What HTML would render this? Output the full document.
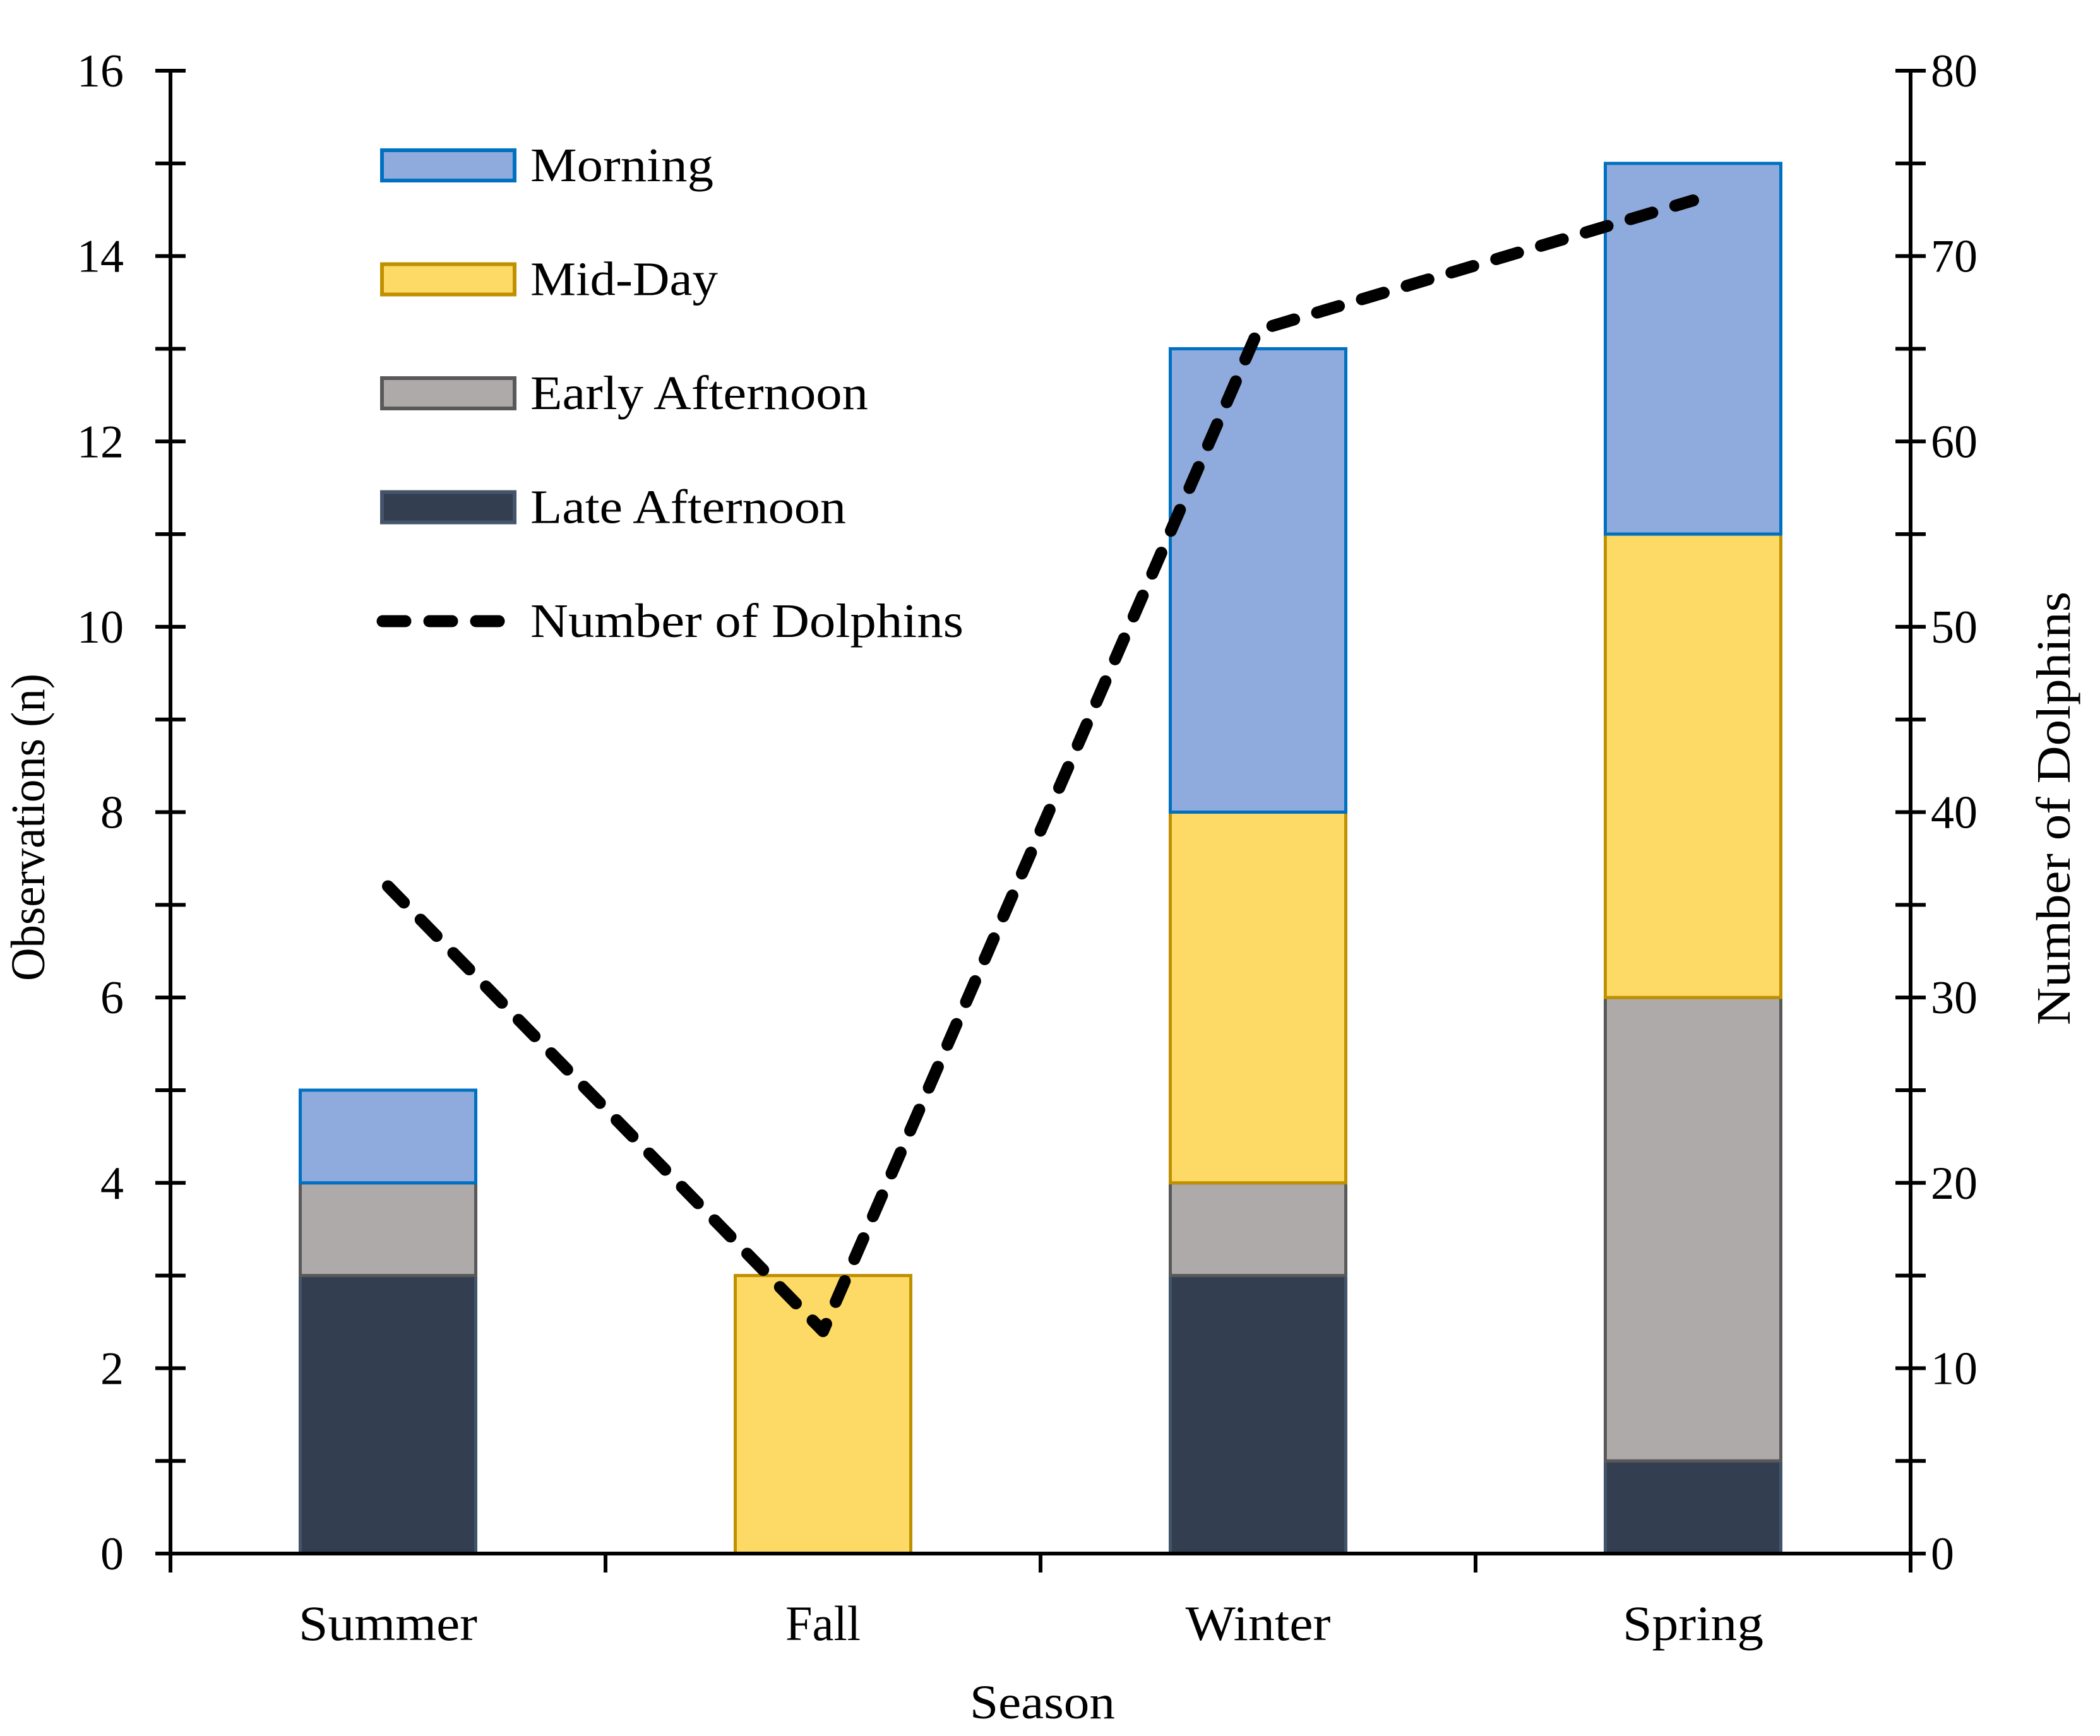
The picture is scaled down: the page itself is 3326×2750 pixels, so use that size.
<!DOCTYPE html>
<html><head><meta charset="utf-8"><style>
html,body{margin:0;padding:0;background:#fff;}
svg{display:block;}
text{font-family:"Liberation Serif",serif;fill:#000;}
</style></head>
<body>
<svg id="chart" width="3326" height="2750" viewBox="0 0 3326 2750" xmlns="http://www.w3.org/2000/svg">
<g id="bars"></g>
<g id="line"></g>
<g id="axes"></g>
<g id="legend"></g>
</svg>
<script>
const categories = ["Summer", "Fall", "Winter", "Spring"];
const lateAfternoon = [3, 0, 3, 1];
const earlyAfternoon = [1, 0, 1, 5];
const midDay = [0, 3, 4, 5];
const morning = [1, 0, 5, 4];
const dolphins = [36, 12, 66, 73];
const leftTicks = [0, 2, 4, 6, 8, 10, 12, 14, 16];
const rightTicks = [0, 10, 20, 30, 40, 50, 60, 70, 80];

const NS = "http://www.w3.org/2000/svg";
const X0 = 270, X1 = 3026, Y0 = 2461, Y1 = 112;
const leftMax = 16, rightMax = 80;
const yL = v => Y0 - (Y0 - Y1) * v / leftMax;
const yR = v => Y0 - (Y0 - Y1) * v / rightMax;
const band = (X1 - X0) / categories.length;
const xC = i => X0 + band * (i + 0.5);
const barW = 278;
const catLens = [283, 119, 230, 223];

function mk(tag, attrs, parent, txt) {
  const e = document.createElementNS(NS, tag);
  for (const k in attrs) e.setAttribute(k, attrs[k]);
  if (txt !== undefined) e.textContent = txt;
  parent.appendChild(e);
  return e;
}

const series = [
  {name: "late-afternoon", vals: lateAfternoon, fill: "#333f50", stroke: "#44546a"},
  {name: "early-afternoon", vals: earlyAfternoon, fill: "#aeaaaa", stroke: "#595959"},
  {name: "mid-day", vals: midDay, fill: "#fdd966", stroke: "#bf9000"},
  {name: "morning", vals: morning, fill: "#8faadc", stroke: "#0070c0"}
];
const gb = document.getElementById("bars");
categories.forEach((c, i) => {
  let base = 0;
  series.forEach(s => {
    const v = s.vals[i];
    if (v > 0) {
      const r = mk("rect", {x: xC(i) - barW / 2, y: yL(base + v), width: barW, height: yL(base) - yL(base + v), fill: s.fill, stroke: s.stroke, "stroke-width": 5}, gb);
      
      
    }
    base += v;
  });
});

const gl = document.getElementById("line");
const pts = dolphins.map((d, i) => xC(i) + "," + yR(d)).join(" ");
const pl = mk("polyline", {points: pts, fill: "none", stroke: "#000", "stroke-width": 19, "stroke-dasharray": "36 38", "stroke-linecap": "round", "stroke-linejoin": "round"}, gl);



const ga = document.getElementById("axes");
const axL = mk("line", {x1: X0, y1: Y1, x2: X0, y2: Y0, stroke: "#000", "stroke-width": 6}, ga);


const axR = mk("line", {x1: X1, y1: Y1, x2: X1, y2: Y0, stroke: "#000", "stroke-width": 6}, ga);


const axX = mk("line", {x1: X0 - 24, y1: Y0, x2: X1 + 24, y2: Y0, stroke: "#000", "stroke-width": 6}, ga);


for (let k = 0; k <= 16; k++) {
  const y = Y0 - (Y0 - Y1) * k / 16;
  mk("line", {x1: X0 - 24, y1: y, x2: X0 + 24, y2: y, stroke: "#000", "stroke-width": 6}, ga);
  mk("line", {x1: X1 - 24, y1: y, x2: X1 + 24, y2: y, stroke: "#000", "stroke-width": 6}, ga);
}
for (let k = 0; k <= categories.length; k++) {
  const x = X0 + band * k;
  mk("line", {x1: x, y1: Y0 - 3, x2: x, y2: Y0 + 30, stroke: "#000", "stroke-width": 6}, ga);
}
leftTicks.forEach(v => {
  const t = mk("text", {x: 196, y: yL(v) + 25, "text-anchor": "end", "font-size": 74}, ga, String(v));
  
  
});
rightTicks.forEach(v => {
  const t = mk("text", {x: 3058, y: yR(v) + 25, "text-anchor": "start", "font-size": 74}, ga, String(v));
  
  
});
categories.forEach((c, i) => {
  const t = mk("text", {x: xC(i) - catLens[i] / 2, y: 2598, "font-size": 78, textLength: catLens[i], lengthAdjust: "spacingAndGlyphs"}, ga, c);
  
  
});
const xt = mk("text", {x: 1536, y: 2722, "font-size": 76, textLength: 230, lengthAdjust: "spacingAndGlyphs"}, ga, "Season");


const ylt = mk("text", {x: -243, y: 0, "font-size": 76, textLength: 487, lengthAdjust: "spacingAndGlyphs", transform: "translate(70,1311) rotate(-90)"}, ga, "Observations (n)");


const yrt = mk("text", {x: -343, y: 0, "font-size": 76, textLength: 687, lengthAdjust: "spacingAndGlyphs", transform: "translate(3278,1281) rotate(-90)"}, ga, "Number of Dolphins");



const lg = document.getElementById("legend");
const legItems = [
  {label: "Morning", fill: "#8faadc", stroke: "#0070c0", len: 290},
  {label: "Mid-Day", fill: "#fdd966", stroke: "#bf9000", len: 297},
  {label: "Early Afternoon", fill: "#aeaaaa", stroke: "#595959", len: 535},
  {label: "Late Afternoon", fill: "#333f50", stroke: "#44546a", len: 500},
  {label: "Number of Dolphins", line: true, len: 686}
];
legItems.forEach((it, k) => {
  const cy = 262 + k * 180.5;
  if (it.line) {
    const l = mk("line", {x1: 606, y1: cy, x2: 800, y2: cy, stroke: "#000", "stroke-width": 19, "stroke-dasharray": "36 38", "stroke-linecap": "round"}, lg);
    
    
  } else {
    const r = mk("rect", {x: 605, y: cy - 24, width: 210, height: 48, fill: it.fill, stroke: it.stroke, "stroke-width": 6}, lg);
    
    
  }
  const t = mk("text", {x: 840, y: cy + 25, "font-size": 76, textLength: it.len, lengthAdjust: "spacingAndGlyphs"}, lg, it.label);
  
  
});
</script>
</body></html>
